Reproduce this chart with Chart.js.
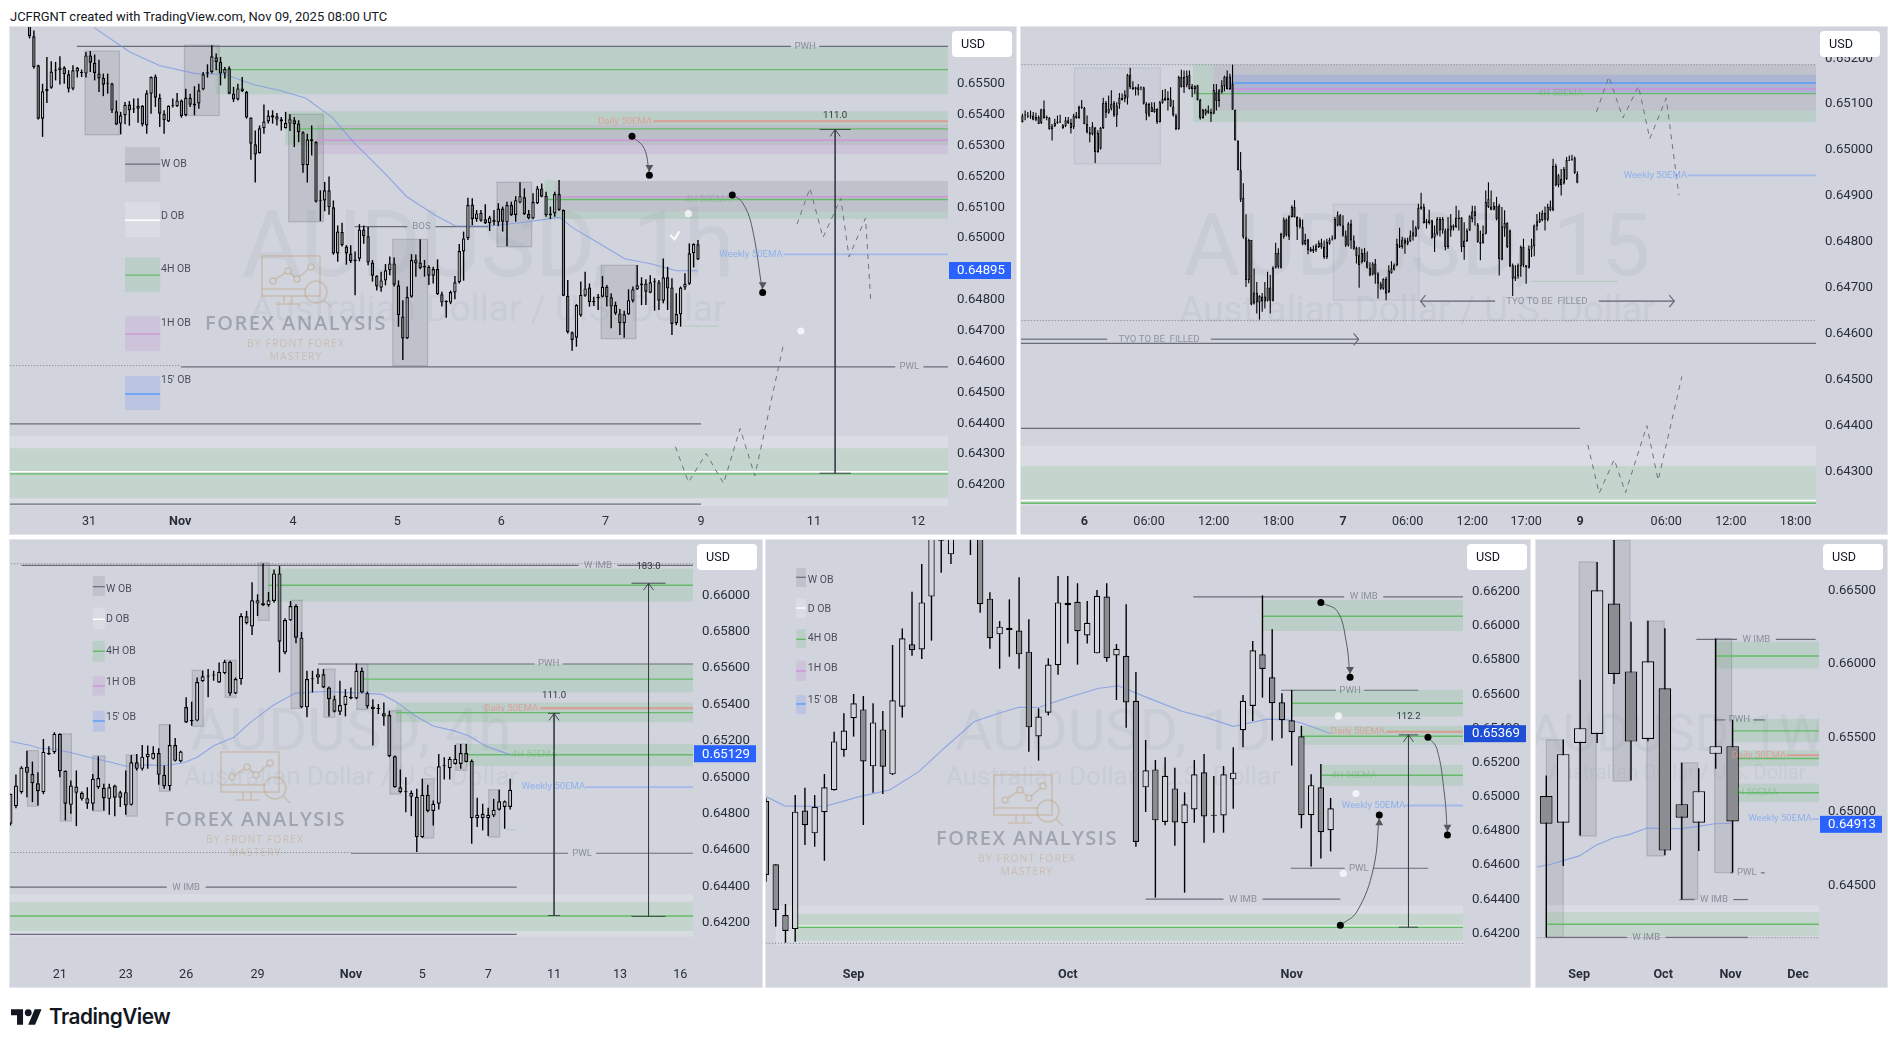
<!DOCTYPE html>
<html><head><meta charset="utf-8"><title>AUDUSD multi-timeframe</title>
<script src="https://cdn.jsdelivr.net/npm/chart.js@4"></script>
<style>
html,body{margin:0;padding:0;background:#fff;width:1897px;height:1047px;overflow:hidden}
#hdr{position:absolute;left:10px;top:9px;font:12.97px Roboto,sans-serif;color:#131722;white-space:nowrap}
#tv{position:absolute;left:11px;top:1004px;display:flex;align-items:center;gap:7px;font:600 20.8px Inter,sans-serif;color:#131722;letter-spacing:-.5px}
canvas{position:absolute;display:block}
</style></head><body>
<div id="hdr">JCFRGNT created with TradingView.com, Nov 09, 2025 08:00 UTC</div>
<div id="tv"><svg width="31" height="24" viewBox="0 2 36 22"><path fill="#131722" d="M14 22H7V11H0V4h14v18zM28 22h-8l7.5-18h8L28 22z"/><circle fill="#131722" cx="20" cy="8" r="4"/></svg><span>TradingView</span></div>
<script>
// All prices are in units of 0.00001. Rows of candles are [open, high, low, close].
const L=-99,R=999;
const p1Start=-14;
const p1Candles=[[65700,65711,65647,65654],[65654,65673,65549,65554],[65560,65562,65384,65387],[65387,65500,65328,65476],[65476,65587,65438,65484],[65487,65573,65484,65540],[65542,65571,65511,65546],[65544,65589,65498,65553],[65553,65557,65500,65531],[65531,65544,65472,65484],[65484,65560,65479,65544],[65540,65554,65520,65552],[65537,65546,65522,65535],[65533,65603,65520,65592],[65592,65606,65538,65568],[65568,65595,65511,65535],[65533,65578,65473,65517],[65519,65533,65460,65497],[65501,65533,65468,65500],[65501,65503,65405,65414],[65411,65446,65366,65368],[65371,65409,65336,65398],[65398,65441,65369,65432],[65433,65444,65364,65414],[65418,65452,65405,65417],[65429,65453,65374,65419],[65429,65431,65362,65368],[65365,65479,65338,65469],[65468,65524,65403,65522],[65524,65530,65425,65455],[65455,65468,65360,65403],[65403,65414,65338,65382],[65378,65430,65376,65429],[65427,65452,65423,65429],[65427,65470,65425,65446],[65446,65449,65390,65396],[65398,65484,65395,65455],[65455,65468,65425,65432],[65436,65492,65398,65430],[65436,65500,65419,65479],[65482,65538,65479,65531],[65533,65563,65520,65537],[65538,65625,65533,65589],[65586,65598,65544,65571],[65571,65587,65495,65533],[65533,65554,65517,65548],[65550,65557,65466,65468],[65468,65490,65441,65449],[65449,65500,65446,65485],[65485,65522,65473,65476],[65473,65477,65387,65391],[65391,65391,65254,65306],[65304,65349,65180,65271],[65275,65365,65274,65356],[65356,65433,65338,65378],[65378,65414,65371,65397],[65391,65414,65371,65398],[65395,65405,65365,65384],[65385,65392,65349,65378],[65356,65409,65355,65373],[65371,65401,65347,65385],[65382,65392,65295,65369],[65371,65382,65311,65343],[65343,65346,65212,65236],[65236,65338,65180,65320],[65320,65365,65268,65314],[65311,65314,65115,65118],[65122,65155,65055,65121],[65122,65182,65087,65155],[65155,65200,65076,65100],[65100,65122,64946,64950],[64950,65041,64923,65021],[65020,65050,64973,64977],[64973,64977,64914,64950],[64950,64977,64919,64925],[64925,64957,64815,64931],[64933,65045,64925,65028],[65028,65041,64982,65006],[65006,65036,64912,64921],[64921,64929,64859,64878],[64878,64880,64830,64843],[64839,64891,64826,64863],[64863,64916,64847,64896],[64896,64940,64880,64918],[64918,64937,64843,64849],[64847,64863,64713,64750],[64746,64799,64605,64675],[64675,64843,64673,64809],[64810,64948,64807,64929],[64931,64947,64875,64918],[64921,64996,64899,64903],[64910,64929,64875,64905],[64907,64912,64848,64878],[64878,64907,64853,64900],[64900,64931,64816,64818],[64818,64826,64778,64791],[64795,64799,64742,64793],[64791,64830,64786,64825],[64824,64877,64802,64857],[64857,64981,64853,64958],[64957,65021,64862,64999],[65000,65131,64994,65107],[65109,65129,65042,65062],[65062,65091,65053,65080],[65082,65091,65053,65056],[65061,65110,65046,65048],[65048,65072,65023,65067],[65051,65091,65042,65059],[65051,65113,65039,65096],[65096,65102,65021,65053],[65051,65118,64974,65107],[65107,65118,65072,65075],[65075,65136,65053,65123],[65115,65181,65113,65136],[65132,65161,65075,65078],[65078,65091,65061,65064],[65064,65145,65061,65117],[65113,65169,65110,65161],[65161,65177,65132,65134],[65137,65150,65069,65074],[65074,65102,65062,65080],[65080,65150,65069,65143],[65143,65188,65089,65091],[65091,65093,64812,64813],[64813,64864,64691,64695],[64695,64697,64635,64670],[64677,64786,64648,64783],[64749,64859,64745,64816],[64813,64891,64810,64837],[64840,64853,64778,64792],[64796,64810,64780,64792],[64805,64819,64767,64810],[64810,64877,64808,64842],[64842,64848,64778,64808],[64808,64821,64708,64778],[64783,64794,64751,64756],[64756,64770,64686,64724],[64724,64765,64677,64753],[64753,64834,64751,64799],[64797,64843,64791,64834],[64834,64913,64832,64847],[64847,64873,64783,64853],[64853,64867,64783,64826],[64823,64880,64821,64857],[64857,64870,64765,64858],[64857,64864,64767,64797],[64797,64934,64789,64873],[64873,64907,64767,64837],[64840,64870,64686,64722],[64724,64821,64718,64754],[64753,64843,64713,64840],[64840,64886,64832,64852],[64852,64983,64848,64951],[64951,64983,64905,64981],[64980,64994,64929,64931]];
const p1TickIdx=[0,21,47,71,95,119,141,167,191];
const p1TickLabels=['31','Nov','4','5','6','7','9','11','12'];
const p1PriceTicks=[65500,65400,65300,65200,65100,65000,64900,64800,64700,64600,64500,64400,64300,64200];
const p1Ema=[[1.2,65682],[9.4,65603],[16.2,65559],[24.5,65533],[31.2,65531],[38,65497],[44,65478],[50,65453],[56,65391],[61.2,65307],[68,65212],[73.2,65134],[79.9,65073],[84.4,65039],[92,65039],[99.4,65050],[108.4,65067],[111.4,65034],[117.4,64984],[123.4,64933],[129.4,64917],[135.4,64894],[140.2,64894]];
const p1Zones=[[-.9,7,65606,65335,'w'],[22,30,65625,65397,'w'],[46,54,65401,65053,'w'],[70,78,64996,64587,'w'],[94,102,65181,64972,'w'],[118,126,64912,64674,'w'],[29.2,R,65620,65466,'g'],[45.2,R,65411,65302,'g'],[52.5,R,65367,65272,'p'],[105,107.2,65187,65062,'g'],[107.2,R,65086,65062,'g'],[107.2,R,65185,65086,'w0'],[L,R,64360,64131,'d'],[L,R,64319,64157,'g']];
const p1Lines=[[65621,-2.8,R,'grey','PWH',165],[65546,29.3,R,'green'],[65354,47.8,R,'green'],[65317,52.5,R,'purple'],[65379,130,R,'daily'],[65134,107,R,'purple'],[65125,105.6,R,'green'],[64947,160,R,'weekly'],[65037,61.2,92,'grey','BOS',76.6],[64583,21.2,R,'grey','PWL',189],[64587,L,21.2,'dot'],[64398,L,141,'grey'],[64138,L,141,'grey'],[64236,L,R,'green'],[64243,L,R,'white'],[64715,137,145,'gf']];
const p1Labels=[[123.5,65379,'Daily 50EMA','daily'],[142.6,65125,'4H 50EMA','ema4'],[152.5,64947,'Weekly 50EMA','weekly'],[171.9,65397,'111.0','meas']];
const p1Measures=[[171.9,65352,64238,3.6]];
const p1Curves=[{pts:[[125.1,65330],[127.9,65291],[129.1,65204]],dir:'down'},{pts:[[148.2,65140],[150.4,65118],[152.6,65045],[155.2,64824]],dir:'down'}];
const p1ZigTop=[[163.1,65045],[166.1,65162],[169.1,65002],[173.2,65129],[175.1,64939],[178.9,65065],[180.1,64799]];
const p1ZigLow=[[135.1,64324],[138.1,64209],[142.2,64302],[146.2,64205],[150,64383],[153.4,64230],[160.1,64662]];
const p1Icons=[[138.1,65079],[164,64699]];
const p1Check=[[133.9,65010],[134.9,64996],[136,65022]];
const p1Legend=[['W OB',65295,65182,65240,65240],['D OB',65117,65003,65058,65071],['4H OB',64938,64825,64880,64900],['1H OB',64747,64634,64689,64725],["15' OB",64553,64443,64495,64540]];
const p1LegendX=[8.3,16.4,16.6];

const p2Start=-23;
const p2Candles=[[65061,65079,65060,65075],[65075,65086,65065,65076],[65075,65083,65070,65073],[65073,65086,65068,65075],[65075,65083,65065,65066],[65066,65081,65063,65072],[65072,65075,65057,65057],[65059,65090,65057,65089],[65089,65108,65068,65070],[65070,65075,65065,65071],[65070,65072,65044,65046],[65046,65057,65021,65052],[65052,65068,65050,65059],[65059,65075,65057,65062],[65062,65077,65059,65060],[65048,65057,65046,65054],[65052,65072,65050,65065],[65065,65072,65057,65059],[65059,65068,65036,65048],[65050,65079,65046,65075],[65070,65083,65068,65075],[65070,65097,65068,65094],[65092,65109,65090,65095],[65092,65094,65056,65057],[65057,65075,65036,65039],[65039,65050,65017,65034],[65034,65061,65032,65052],[65049,65050,64972,64996],[64996,65043,64994,65037],[65003,65050,65001,65048],[65048,65114,65046,65103],[65103,65107,65070,65081],[65081,65119,65079,65090],[65090,65130,65086,65101],[65103,65107,65072,65075],[65075,65104,65050,65097],[65099,65124,65090,65114],[65109,65123,65108,65114],[65112,65130,65104,65121],[65114,65166,65099,65164],[65164,65179,65133,65137],[65137,65150,65131,65133],[65133,65138,65119,65137],[65137,65144,65119,65131],[65136,65138,65130,65137],[65137,65138,65099,65101],[65101,65104,65065,65079],[65075,65103,65072,65101],[65094,65104,65083,65083],[65083,65104,65081,65090],[65090,65091,65057,65061],[65061,65107,65060,65104],[65102,65131,65101,65112],[65108,65133,65107,65114],[65109,65128,65086,65114],[65112,65137,65094,65095],[65095,65109,65073,65075],[65075,65079,65043,65046],[65046,65162,65044,65159],[65159,65175,65136,65137],[65137,65173,65124,65159],[65141,65173,65137,65162],[65164,65173,65132,65133],[65133,65144,65115,65139],[65133,65141,65123,65139],[65141,65142,65108,65109],[65109,65112,65066,65070],[65070,65090,65068,65088],[65079,65090,65075,65088],[65081,65097,65079,65086],[65083,65090,65061,65079],[65079,65144,65078,65131],[65126,65144,65086,65107],[65107,65133,65094,65130],[65126,65152,65123,65141],[65139,65162,65128,65160],[65160,65173,65132,65133],[65133,65166,65131,65160],[65144,65186,65088,65088],[65088,65088,65021,65021],[65021,65021,64956,64956],[64957,64996,64887,64892],[64896,64928,64807,64810],[64810,64860,64702,64717],[64717,64807,64710,64804],[64804,64804,64662,64664],[64666,64742,64664,64690],[64690,64713,64644,64668],[64668,64684,64631,64682],[64681,64689,64648,64670],[64670,64713,64655,64681],[64672,64735,64670,64701],[64701,64728,64644,64672],[64672,64747,64670,64744],[64744,64798,64742,64776],[64746,64786,64742,64776],[64744,64820,64742,64818],[64811,64853,64807,64849],[64849,64851,64812,64815],[64811,64858,64804,64856],[64854,64880,64853,64876],[64876,64891,64853,64854],[64854,64856,64804,64833],[64849,64853,64829,64833],[64833,64849,64793,64795],[64795,64818,64793,64804],[64805,64807,64773,64782],[64785,64789,64778,64780],[64780,64792,64776,64785],[64782,64796,64778,64792],[64789,64803,64787,64798],[64798,64807,64785,64789],[64789,64803,64763,64767],[64766,64807,64763,64800],[64796,64809,64794,64805],[64805,64814,64803,64807],[64807,64854,64805,64850],[64836,64866,64834,64858],[64858,64861,64834,64836],[64836,64858,64811,64814],[64814,64825,64789,64792],[64792,64843,64790,64840],[64840,64848,64785,64803],[64803,64814,64783,64785],[64787,64790,64753,64769],[64771,64789,64700,64749],[64756,64785,64753,64776],[64776,64787,64756,64758],[64758,64779,64742,64744],[64744,64756,64725,64727],[64729,64756,64727,64753],[64753,64763,64709,64729],[64731,64734,64677,64709],[64709,64713,64696,64698],[64698,64721,64696,64720],[64720,64724,64673,64687],[64691,64749,64689,64738],[64732,64758,64731,64742],[64740,64753,64738,64749],[64749,64807,64747,64796],[64789,64831,64787,64793],[64789,64811,64785,64805],[64805,64809,64774,64796],[64796,64809,64793,64802],[64802,64825,64800,64814],[64812,64847,64803,64821],[64812,64834,64811,64831],[64829,64883,64827,64874],[64872,64907,64870,64877],[64877,64883,64840,64841],[64841,64850,64829,64845],[64841,64870,64838,64847],[64847,64848,64807,64809],[64809,64836,64778,64819],[64818,64854,64814,64850],[64850,64854,64812,64825],[64825,64854,64818,64850],[64825,64829,64782,64789],[64789,64854,64785,64829],[64825,64861,64811,64836],[64831,64838,64825,64836],[64832,64879,64831,64853],[64850,64869,64825,64853],[64853,64854,64778,64789],[64789,64843,64761,64803],[64802,64829,64800,64825],[64825,64858,64824,64856],[64850,64879,64843,64867],[64867,64879,64836,64856],[64838,64841,64798,64800],[64800,64825,64760,64796],[64798,64836,64796,64818],[64818,64912,64816,64887],[64876,64930,64874,64894],[64877,64912,64869,64870],[64870,64887,64869,64879],[64879,64898,64847,64850],[64879,64883,64727,64763],[64761,64876,64760,64834],[64829,64869,64811,64841],[64841,64843,64787,64789],[64825,64827,64745,64747],[64749,64753,64682,64720],[64720,64749,64715,64725],[64725,64753,64720,64749],[64747,64792,64724,64789],[64789,64807,64745,64749],[64749,64749,64709,64745],[64744,64792,64742,64785],[64785,64807,64767,64792],[64791,64838,64769,64836],[64834,64861,64825,64845],[64843,64865,64841,64850],[64847,64869,64845,64863],[64863,64877,64825,64848],[64848,64883,64845,64877],[64869,64890,64867,64877],[64869,64981,64867,64966],[64966,64970,64921,64923],[64924,64948,64919,64945],[64937,64959,64901,64924],[64927,64963,64925,64959],[64937,64985,64935,64979],[64977,64988,64976,64979],[64979,64990,64977,64981],[64983,64986,64948,64950],[64948,64954,64928,64929]];
const p2TickIdx=[0,24,48,72,96,120,144,164,184,216,240,264];
const p2TickLabels=['6','06:00','12:00','18:00','7','06:00','12:00','17:00','9','06:00','12:00','18:00'];
const p2PriceTicks=[65200,65100,65000,64900,64800,64700,64600,64500,64400,64300];
const p2Zones=[[-3.7,28.2,65179,64970,'wl'],[92.4,124.2,64882,64673,'wl'],[40.4,48,65186,65061,'g'],[48,R,65086,65061,'g'],[48,R,65186,65086,'w0'],[54.3,R,65164,65124,'b'],[L,R,64356,64225,'d'],[L,R,64312,64231,'g']];
const p2Lines=[[65186,L,R,'dot'],[64629,L,R,'dot'],[65146,54.3,R,'blue'],[65133,54.3,R,'purple'],[65123,40,R,'green'],[64945,224,R,'weekly'],[64671,124.8,219,'tyo','TYO TO BE  FILLED',171.7],[64588,L,101.8,'tyo','TYO TO BE  FILLED',27.7],[64579,L,R,'grey'],[64394,L,184,'grey'],[64231,L,R,'green'],[64237,L,R,'white'],[64714,166,198,'gf']];
const p2Labels=[[176.7,65123,'4H 50EMA','ema4'],[212,64945,'Weekly 50EMA','weekly']];
const p2Chevrons=[[124.8,64671,-1],[219,64671,1],[101.8,64588,1]];
const p2ZigTop=[[190.1,65083],[194.7,65160],[199.9,65070],[205.7,65139],[209.9,65025],[216,65113],[220.7,64902]];
const p2ZigLow=[[186.9,64358],[191.1,64253],[196.7,64326],[200.9,64254],[208.8,64400],[213,64281],[221.8,64507]];

const p3Start=-9;
const p3Candles=[[64909,64909,64735,64744],[64841,65015,64830,64954],[64918,65060,64909,65053],[65058,65146,64890,65024],[65018,65086,64863,64967],[64967,65027,64845,64923],[64918,65210,64907,65139],[65133,65170,65122,65126],[65137,65247,65128,65238],[65238,65241,65000,65033],[65035,65037,64763,64854],[64848,64982,64799,64954],[64949,65037,64731,64914],[64914,64922,64872,64881],[64885,64945,64826,64854],[64854,65018,64817,64991],[64945,65115,64936,64996],[64942,64964,64817,64885],[64881,64964,64794,64945],[64954,64958,64786,64887],[64918,64925,64836,64887],[64918,65037,64794,64845],[64848,65122,64845,65082],[65082,65128,65037,65046],[65046,65177,65037,65113],[65110,65174,65046,65128],[65101,65170,65097,65133],[65133,65159,64958,65013],[65013,65064,64936,64951],[64951,65289,64927,65177],[65177,65216,65086,65090],[65086,65146,65082,65141],[65386,65439,65298,65301],[65307,65415,65283,65314],[65311,65548,65307,65523],[65528,65585,65524,65555],[65554,65594,65439,65555],[65559,65585,65530,65561],[65521,65630,65517,65579],[65572,65645,65566,65634],[65634,65640,65448,65460],[65460,65548,65457,65539],[65539,65901,65508,65886],[65884,65914,65840,65846],[65828,66072,65782,65972],[65954,66005,65886,65972],[65956,66175,65941,65945],[65945,66018,65937,65972],[65968,66142,65959,66120],[66120,66160,65576,65745],[65685,65873,65676,65864],[65862,65968,65859,65941],[65941,65950,65736,65767],[65767,65798,65380,65384],[65384,65585,65329,65539],[65539,65585,65466,65538],[65548,65597,65512,65566],[65566,65594,65490,65493],[65493,65499,65334,65429],[65429,65448,65356,65360],[65360,65530,65342,65397],[65397,65484,65334,65448],[65442,65493,65429,65433],[65433,65625,65429,65585],[65585,65603,65462,65466],[65462,65470,65378,65389],[65389,65429,65174,65375],[65375,65402,65347,65378],[65351,65411,65283,65334],[65342,65365,65110,65115],[65115,65119,64942,64945],[64945,65042,64914,64918],[64922,65000,64808,64918],[64914,64927,64786,64892],[64892,64936,64589,64671],[64671,64991,64666,64903],[64903,64958,64808,64814],[64814,64872,64735,64854],[64854,65128,64823,65060],[65060,65110,64987,65064],[65049,65113,64987,65101],[65073,65177,65070,65101],[65073,65183,65046,65133],[65133,65183,65082,65084],[65090,65097,64635,64775],[64775,64887,64726,64794],[64799,64854,64708,64775],[64775,64832,64677,64794],[64790,64881,64781,64821],[64821,64931,64817,64868],[64836,64872,64717,64868],[64836,64991,64823,64931]];
const p3TickIdx=[0,12,23,36,53,66,78,90,102,113];
const p3TickLabels=['21','23','26','29','Nov','5','7','11','13','16'];
const p3PriceTicks=[66000,65800,65600,65400,65200,65000,64800,64600,64400,64200];
const p3Ema=[[-8.9,65196],[-5.3,65174],[-3.8,65159],[-1,65155],[2.3,65133],[5.9,65106],[9.3,65082],[12,65060],[15.3,65068],[19.3,65064],[22.6,65079],[25,65110],[28.1,65174],[31.7,65219],[34.7,65301],[39,65398],[42.9,65462],[45.6,65466],[48.1,65471],[51.7,65466],[55.3,65462],[58.7,65455],[61.4,65411],[64.7,65338],[68.1,65280],[71.7,65256],[74.4,65228],[77.8,65168],[82,65124]];
const p3Zones=[[-5.9,-3.9,65146,64841,'w'],[.1,2.1,65238,64759,'w'],[6,8.2,65117,64814,'w'],[12.1,14.1,65122,64786,'w'],[18.1,20.1,65289,64923,'w'],[24.1,26.1,65588,65280,'w'],[30.1,32.1,65643,65439,'w'],[36.1,38.1,66178,65862,'w'],[42.1,44.1,65972,65378,'w'],[48.1,50.1,65594,65329,'w'],[54.1,56.1,65621,65373,'w'],[60.1,62.1,65365,64907,'w'],[66.1,68.1,64991,64666,'w'],[72.1,74.1,65183,65038,'w'],[78.1,80.1,64931,64671,'w'],[37.9,R,66146,65965,'g'],[55.8,R,65622,65466,'g'],[61.2,R,65410,65302,'g'],[74.1,R,65183,65061,'g'],[L,R,64357,64124,'d'],[L,R,64315,64155,'g']];
const p3Lines=[[66173,L,R,'dot'],[66164,-7,R,'grey','W IMB',98],[66055,37.9,R,'green'],[65622,47,R,'grey','PWH',89],[65539,54.9,R,'green'],[65355,61.2,R,'green'],[65379,87.4,R,'daily'],[65123,74.1,R,'green'],[64946,95.7,R,'weekly'],[64582,53,R,'grey','PWL',95.1],[64586,L,53,'dot'],[64396,L,83.2,'grey','W IMB',23],[64237,L,R,'green'],[64136,L,83.2,'grey'],[64711,81.2,83.2,'gf']];
const p3Labels=[[82.2,65379,'Daily 50EMA','daily'],[86.4,65123,'4H 50EMA','ema4'],[89.9,64946,'Weekly 50EMA','weekly'],[90,65448,'111.0','meas'],[107.2,66160,'183.0','meas']];
const p3Measures=[[90,65351,64240,1.1],[107.2,66066,64235,3.1]];
const p3Legend=[['W OB',66105,65996,66047,66032],['D OB',65932,65815,65868,65868],['4H OB',65749,65634,65692,65692],['1H OB',65557,65448,65501,65521],["15' OB",65365,65250,65309,65331]];
const p3LegendX=[6,8.2,8.4];

const p4Start=-9;
const p4Candles=[[64975,64991,64503,64542],[64605,64605,64240,64338],[64308,64373,64146,64215],[64226,65010,64152,64913],[64919,65053,64718,64833],[64786,65010,64708,64942],[64909,65133,64626,65055],[65038,65381,65036,65324],[65274,65488,65234,65387],[65459,65601,65352,65547],[65511,65589,64835,65207],[65178,65547,65024,65435],[65394,65502,65016,65176],[65131,65888,65127,65564],[65527,65985,65463,65927],[65892,66200,65825,65857],[65862,66362,65806,66137],[66171,66619,65913,66580],[66512,66658,66311,66498],[66418,66600,66362,66560],[66620,66700,66560,66660],[66640,66700,66414,66560],[66541,66580,66077,66126],[66159,66196,65866,65927],[65950,66028,65749,65995],[65976,66155,65819,65989],[65972,66284,65749,65833],[65849,66038,65264,65406],[65353,65517,65211,65469],[65492,65810,65476,65773],[65769,66291,65714,66137],[66120,66291,65896,66135],[66141,66249,65773,65968],[65944,66145,65896,66018],[65839,66210,65839,66176],[66171,66249,65790,65810],[65827,65894,65566,65866],[65825,66126,65404,65552],[65562,65730,64708,64735],[65055,65332,64911,65155],[65160,65215,64410,64862],[64852,65231,64833,65123],[65049,65170,64714,64850],[64845,65026,64439,64956],[64926,65215,64848,65131],[65143,65250,64731,64885],[64889,65121,64790,64891],[64891,65180,64790,65131],[65102,65289,64930,65141],[65389,65595,65289,65562],[65531,65911,65443,65857],[65833,66178,65580,65747],[65699,65980,65329,65547],[65553,65606,65342,65448],[65448,65625,65183,65378],[65354,65415,64816,64892],[64892,65132,64592,65068],[65056,65192,64639,64793],[64804,64993,64680,64933]];
const p4TickIdx=[0,22,45];
const p4TickLabels=['Sep','Oct','Nov'];
const p4PriceTicks=[66200,66000,65800,65600,65400,65200,65000,64800,64600,64400,64200];
const p4Ema=[[-9,65001],[-7.1,64947],[-3,64943],[.6,65001],[3.7,65040],[6.7,65147],[9.3,65284],[12.4,65440],[14.9,65489],[17,65524],[19,65522],[22.1,65582],[25.2,65635],[27.2,65649],[30.3,65577],[33.8,65499],[36.4,65460],[39,65412],[42.5,65454],[44.6,65450],[46.1,65430],[49,65370]];
const p4Zones=[[42,R,66152,65970,'g'],[45,R,65625,65469,'g'],[46,R,65415,65303,'g'],[48.1,R,65187,65064,'g'],[-8,R,64362,64130,'d'],[-6,R,64315,64157,'g']];
const p4Lines=[[66169,34.9,R,'grey','W IMB',52.4],[66056,42,R,'green'],[65623,43.9,58,'grey','PWH',51],[65547,45,R,'green'],[65354,46,R,'green'],[65381,54.7,R,'daily'],[65126,48.1,R,'green'],[64949,56.6,R,'weekly'],[64582,44.9,59,'grey','PWL',51.9],[64401,30,50,'grey','W IMB',40],[64237,-6,R,'green'],[64243,-6,R,'white'],[64143,L,R,'dot']];
const p4Labels=[[51.8,65381,'Daily 50EMA','daily'],[51.4,65126,'4H 50EMA','ema4'],[53.4,64949,'Weekly 50EMA','weekly'],[57,65467,'112.2','meas']];
const p4Measures=[[57,65362,64237,1]];
const p4Curves=[{pts:[[48,66136],[49.7,66084],[50.6,65908],[51,65699]],dir:'down'},{pts:[[59,65348],[59.9,65284],[60.7,65011],[61,64777]],dir:'down'},{pts:[[50,64248],[51.7,64328],[53.4,64582],[54,64894]],dir:'up'}];
const p4Icons=[[49.8,65473],[51.6,65019],[50.3,64551]];
const p4Legend=[['W OB',66338,66227,66284,66266],['D OB',66159,66046,66104,66096],['4H OB',65981,65870,65921,65927],['1H OB',65796,65677,65736,65751],["15' OB",65595,65484,65543,65564]];
const p4LegendX=[-5.9,-4.9,-4.7];

const p5Start=0;
const p5Candles=[[65105,65244,64146,64917],[64924,65488,64631,65389],[65465,65894,64838,65565],[65526,66692,65465,66500],[66410,66868,65865,65932],[65950,66286,65211,65474],[65492,66293,65477,66018],[65835,66243,64703,64735],[65050,65330,64405,64958],[64924,65294,64733,65138],[65391,66173,65290,65443],[65443,65621,64586,64933]];
const p5TickIdx=[1.94,6.9,10.88,14.86];
const p5TickLabels=['Sep','Oct','Nov','Dec'];
const p5PriceTicks=[66500,66000,65500,65000,64500];
const p5Ema=[[-.55,64624],[.27,64642],[1.94,64699],[2.94,64771],[3.94,64820],[4.94,64845],[5.94,64888],[6.94,64884],[7.94,64884],[8.94,64899],[9.94,64917],[10.94,64920]];
const p5Zones=[[0,1,65486,64146,'w'],[1.94,2.94,66692,64834,'w'],[3.94,4.94,66840,65206,'w'],[5.94,6.96,66291,64699,'w'],[7.94,8.94,65330,64406,'w'],[9.94,10.94,66173,64586,'w'],[9.98,R,66151,65970,'g'],[10.96,R,65628,65470,'g'],[10.96,R,65414,65308,'g'],[10.96,R,65190,65064,'g'],[0,R,64365,64151,'d'],[0,R,64318,64155,'g']];
const p5Lines=[[66167,8.86,15.9,'grey','W IMB',12.4],[66054,9.98,R,'green'],[65621,9.9,12.9,'grey','PWH',11.4],[65547,10.96,R,'green'],[65359,10.96,R,'green'],[65382,14.2,R,'daily'],[65127,10.96,R,'green'],[64949,15.7,R,'weekly'],[64584,10.86,12.9,'grey','PWL',11.84],[64403,7.86,11.9,'grey','W IMB',9.9],[64236,0,R,'green'],[64144,L,R,'dot'],[64146,0,11.9,'grey','W IMB',5.9]];
const p5Labels=[[12.55,65382,'Daily 50EMA','daily'],[12.3,65127,'4H 50EMA','ema4'],[13.8,64949,'Weekly 50EMA','weekly']];

const BG='#d1d4dd', FONT='Roboto, sans-serif';
const ZONE={w:['rgba(120,123,134,.2)','rgba(120,123,134,.35)'],w0:['rgba(120,123,134,.2)',null],wl:['rgba(120,123,134,.06)','rgba(120,123,134,.16)'],d:['rgba(255,255,255,.2)',null],g:['rgba(76,175,80,.15)',null],p:['rgba(186,104,200,.15)',null],b:['rgba(41,98,255,.13)',null]};
const LINE={grey:['#6a6d78',1.2],green:['#66bb6a',1.4],purple:['#ce93d8',1.4],blue:['#5b9cf6',1.4],daily:['rgba(226,140,130,.75)',2],weekly:['#a3b8ec',1.8],white:['#ffffff',1.4],dot:['#787b86',1,[1,2]],tyo:['#7f828d',1.6],gf:['rgba(76,175,80,.25)',1]};
const TXT={grey:'rgba(80,83,94,.55)',tyo:'rgba(80,83,94,.5)',daily:'rgba(227,150,140,.8)',weekly:'#8fb0ec',ema4:'rgba(76,175,80,.35)',meas:'#33363f',leg:'#4b4e59'};
const P=v=>v/1e5;
const OVER={left:8,top:8,right:0,bottom:0};

function logo(ctx,x,y){
  ctx.save();ctx.translate(x,y);ctx.strokeStyle='rgba(190,160,120,.42)';ctx.lineWidth=1.6;
  ctx.strokeRect(0,0,58,40);ctx.beginPath();ctx.moveTo(0,33);ctx.lineTo(44,33);ctx.stroke();
  ctx.beginPath();ctx.moveTo(22,40);ctx.lineTo(22,47);ctx.moveTo(30,40);ctx.lineTo(30,47);ctx.moveTo(14,48);ctx.lineTo(38,48);ctx.stroke();
  const d=[[11,25],[26,15],[35,23],[49,11]];ctx.beginPath();d.forEach((q,i)=>i?ctx.lineTo(q[0],q[1]):ctx.moveTo(q[0],q[1]));ctx.stroke();
  d.forEach(q=>{ctx.beginPath();ctx.arc(q[0],q[1],3,0,7);ctx.fillStyle=BG;ctx.fill();ctx.stroke();});
  ctx.beginPath();ctx.arc(54,36,11,0,7);ctx.stroke();ctx.beginPath();ctx.moveTo(62,44);ctx.lineTo(69,51);ctx.stroke();
  ctx.restore();
}

function panel(c){
  const cv=document.createElement('canvas');
  cv.width=c.box[2];cv.height=c.box[3];
  cv.style.cssText=`left:${c.box[0]}px;top:${c.box[1]}px;width:${c.box[2]}px;height:${c.box[3]}px;outline:1px solid #e4e6ec`;
  document.body.appendChild(cv);
  const plotW=c.box[2]-c.axisW, plotH=c.box[3]-28;
  const ix=(c.x[1]-c.x[0])/plotW, pp=(c.y[1]-c.y[0])/plotH;
  const ds=[];
  const line=(pts,color,width,dash,order,extra)=>ds.push(Object.assign({type:'line',clip:OVER,data:pts.map(q=>({x:q[0],y:P(q[1])})),borderColor:color,borderWidth:width,borderDash:dash||[],pointRadius:0,tension:0,fill:false,order:order},extra||{}));
  const labels=(c.labels||[]).slice(), zones=(c.zones||[]).slice(), hl=(c.lines||[]).slice();
  if(c.legend){const k=['w0','d','g','p','b'],l=['grey','white','green','purple','blue'];
    c.legend.forEach((r,n)=>{zones.push([c.legendX[0],c.legendX[1],r[1],r[2],k[n]]);hl.push([r[3],c.legendX[0],c.legendX[1],l[n]]);labels.push([c.legendX[2],r[4],r[0],'leg','left']);});}
  hl.forEach(r=>{const[p,a,b,kind,txt,at]=r,s=LINE[kind];
    if(txt){labels.push([at,p,txt,kind==='grey'?'grey':'tyo']);const g=(txt.length*5.4+12)/2*ix;
      line([[a,p],[at-g,p]],s[0],s[1],s[2],6);line([[at+g,p],[b,p]],s[0],s[1],s[2],6);}
    else line([[a,p],[b,p]],s[0],s[1],s[2],6);});
  if(c.ema)line(c.ema,'rgba(120,150,230,.75)',1.1,null,5);
  (c.zig||[]).forEach(z=>line(z,'#6f7280',1,[5,5],1));
  (c.measures||[]).forEach(m=>{const[i,t,b,cap]=m;
    line([[i,t],[i,b]],'#3a3d47',.9,null,1);line([[i-cap,t],[i+cap,t]],'#3a3d47',.9,null,1);line([[i-cap,b],[i+cap,b]],'#3a3d47',.9,null,1);
    line([[i-5*ix,t-7*pp],[i,t],[i+5*ix,t-7*pp]],'#3a3d47',.9,null,1);});
  (c.chevrons||[]).forEach(m=>{const[i,p,d]=m;line([[i-d*5*ix,p+6*pp],[i,p],[i-d*5*ix,p-6*pp]],'#666974',1.2,null,1);});
  (c.curves||[]).forEach(u=>{const n=u.pts.length;
    line(u.pts,'#5a5d68',1,null,0,{tension:.4,pointRadius:u.pts.map((q,j)=>j===0||j===n-1?3.5:0),pointBackgroundColor:'#000',pointBorderWidth:0});
    const e=u.pts[n-1],up=u.dir==='up';
    line([[e[0],e[1]+(up?-8:8)*pp]],'#555',1,null,0,{showLine:false,pointStyle:'triangle',pointRotation:up?0:180,pointRadius:4.5,pointBackgroundColor:'#555',pointBorderWidth:0});});
  if(c.icons)line(c.icons,'#fff',1,null,0,{showLine:false,pointRadius:3.6,pointBackgroundColor:'rgba(255,255,255,.72)',pointBorderWidth:0});
  if(c.check)line(c.check,'rgba(255,255,255,.9)',2,null,0);
  const xs=c.candles.map((r,n)=>c.start+n+(c.shift||0));
  const BODY={up:BG,dn:'#8b8d93'};
  ds.push({type:'bar',clip:OVER,order:3,grouped:false,barThickness:c.wick||1.4,backgroundColor:'#000',borderWidth:0,inflateAmount:0,data:c.candles.map((r,n)=>({x:xs[n],y:[P(r[2]),P(r[1])]}))});
  ds.push({type:'bar',clip:OVER,order:2,grouped:false,barThickness:c.body,minBarLength:1,backgroundColor:c.candles.map(r=>r[3]>=r[0]?BODY.up:BODY.dn),borderColor:'#000',borderWidth:c.bw||1.2,borderSkipped:false,inflateAmount:0,data:c.candles.map((r,n)=>({x:xs[n],y:[P(Math.min(r[0],r[3])),P(Math.max(r[0],r[3]))]}))});
  const bold=new Set(c.bold);
  const plugin={id:'p'+c.box[0],
    beforeDraw(ch){const x=ch.ctx,sx=ch.scales.x,sy=ch.scales.y;
      x.save();x.fillStyle=BG;x.fillRect(0,0,ch.width,ch.height);
      x.beginPath();x.rect(0,0,plotW,plotH);x.clip();
      x.textAlign='center';x.textBaseline='middle';
      x.fillStyle='rgba(120,123,134,.095)';x.font=`400 ${c.wm.bs}px ${FONT}`;x.fillText(c.wm.big,c.wm.cx,c.wm.by);
      x.font=`400 ${c.wm.ss}px ${FONT}`;x.fillText('Australian Dollar / U.S. Dollar',c.wm.cx,c.wm.sy);
      if(c.logo){const g=c.logo;logo(x,g.x,g.y);
        x.fillStyle='rgba(120,123,134,.55)';x.font=`600 20px "Open Sans",${FONT}`;x.letterSpacing='1.5px';x.fillText('FOREX ANALYSIS',g.cx,g.t);x.letterSpacing='1px';
        x.fillStyle='rgba(190,160,120,.42)';x.font=`400 10.5px "Open Sans",${FONT}`;x.fillText('BY FRONT FOREX',g.cx,g.t+20);x.fillText('MASTERY',g.cx,g.t+33);x.letterSpacing='0px';}
      zones.forEach(z=>{const s=ZONE[z[4]];const X1=sx.getPixelForValue(z[0]),X2=sx.getPixelForValue(z[1]),Y1=sy.getPixelForValue(P(z[2])),Y2=sy.getPixelForValue(P(z[3]));
        x.fillStyle=s[0];x.fillRect(X1,Y1,X2-X1,Y2-Y1);if(s[1]){x.strokeStyle=s[1];x.lineWidth=1.2;x.strokeRect(X1,Y1,X2-X1,Y2-Y1);}});
      x.restore();},
    afterDraw(ch){const x=ch.ctx,sx=ch.scales.x,sy=ch.scales.y;
      x.save();x.textBaseline='middle';
      labels.forEach(l=>{x.fillStyle=TXT[l[3]];x.textAlign=l[4]||'center';x.font=l[3]==='leg'?`400 10.5px ${FONT}`:`400 9.6px ${FONT}`;x.fillText(l[2],sx.getPixelForValue(l[0]),sy.getPixelForValue(P(l[1])));});
      if(c.tag){const Y=sy.getPixelForValue(P(c.tag));x.fillStyle=c.tagColor||'#2962ff';x.fillRect(plotW+1,Y-8.5,62,17);x.fillStyle='#fff';x.textAlign='left';x.font=`13.2px ${FONT}`;x.fillText((c.tag/1e5).toFixed(5),plotW+9,Y+.5);}
      x.fillStyle='#fff';x.beginPath();x.roundRect(plotW+4,4,60,26,4);x.fill();
      x.fillStyle='#131722';x.textAlign='left';x.font=`12.6px ${FONT}`;x.fillText('USD',plotW+13,17.5);
      x.restore();}};
  const ch=new Chart(cv,{type:'bar',data:{datasets:ds},plugins:[plugin],options:{responsive:false,animation:false,events:[],devicePixelRatio:1,layout:{padding:0},
    plugins:{legend:{display:false},tooltip:{enabled:false}},
    scales:{
      x:{type:'linear',offset:false,min:c.x[0],max:c.x[1],grid:{display:false},border:{display:false},
        afterBuildTicks:s=>{s.ticks=c.tickIdx.map(v=>({value:v}));},afterFit:s=>{s.height=28;s.paddingLeft=0;s.paddingRight=0;},
        ticks:{autoSkip:false,maxRotation:0,minRotation:0,padding:0,color:'#2a2e39',callback:(v,i)=>c.tickLabels[i],
          font:t=>({family:FONT,size:12.6,weight:t.tick&&bold.has(t.tick.value)?'700':'400'})}},
      y:{type:'linear',position:'right',min:P(c.y[0]),max:P(c.y[1]),grid:{display:false},border:{display:false},
        afterBuildTicks:s=>{s.ticks=c.priceTicks.map(v=>({value:P(v)}));},afterFit:s=>{s.width=c.axisW;s.paddingTop=0;s.paddingBottom=0;},
        ticks:{autoSkip:false,padding:1,color:'#2a2e39',font:{family:FONT,size:13.2},callback:v=>v.toFixed(5)}}
    }}});
  // Chart.js may keep a small margin around the plot for its edge labels: re-range the scales so the data lands where it was read.
  const a=ch.chartArea;
  ch.options.scales.x.min=c.x[0]+a.left*ix;ch.options.scales.x.max=c.x[0]+a.right*ix;
  ch.options.scales.y.max=P(c.y[1]-a.top*pp);ch.options.scales.y.min=P(c.y[1]-a.bottom*pp);
  ch.update();
}

panel({box:[10,27,1006,507],axisW:68,x:[-18.2,197.9],y:[64132,65684],candles:p1Candles,start:p1Start,shift:.3,body:3.4,tickIdx:p1TickIdx,tickLabels:p1TickLabels,bold:[21],priceTicks:p1PriceTicks,ema:p1Ema,zones:p1Zones,lines:p1Lines,labels:p1Labels,measures:p1Measures,curves:p1Curves,zig:[p1ZigTop,p1ZigLow],icons:p1Icons,check:p1Check,legend:p1Legend,legendX:p1LegendX,tag:64895,
  wm:{big:'AUDUSD, 1h',bs:92,cx:478,by:226,ss:37,sy:285},logo:{x:252,y:229,cx:286,t:297}});
panel({box:[1021,27,866,507],axisW:71,x:[-23.2,271.6],y:[64225,65266],candles:p2Candles,start:p2Start,body:2.3,bw:1,wick:1.1,tickIdx:p2TickIdx,tickLabels:p2TickLabels,bold:[0,96,184],priceTicks:p2PriceTicks,zones:p2Zones,lines:p2Lines,labels:p2Labels,chevrons:p2Chevrons,zig:[p2ZigTop,p2ZigLow],
  wm:{big:'AUDUSD, 15',bs:87,cx:396,by:226,ss:37,sy:286}});
panel({box:[10,540,752,447],axisW:69,x:[-8.9,115.3],y:[64001,66298],candles:p3Candles,start:p3Start,body:4,tickIdx:p3TickIdx,tickLabels:p3TickLabels,bold:[53],priceTicks:p3PriceTicks,ema:p3Ema,zones:p3Zones,lines:p3Lines,labels:p3Labels,measures:p3Measures,legend:p3Legend,legendX:p3LegendX,tag:65129,
  wm:{big:'AUDUSD, 4h',bs:60,cx:341,by:195,ss:26,sy:238},logo:{x:211,y:212,cx:245,t:280}});
panel({box:[766,540,764,447],axisW:67,x:[-9,62.6],y:[64051,66502],candles:p4Candles,start:p4Start,body:6.4,tickIdx:p4TickIdx,tickLabels:p4TickLabels,bold:[0,22,45],priceTicks:p4PriceTicks,ema:p4Ema,zones:p4Zones,lines:p4Lines,labels:p4Labels,measures:p4Measures,curves:p4Curves,icons:p4Icons,legend:p4Legend,legendX:p4LegendX,tag:65369,tagColor:'#1c4fd6',
  wm:{big:'AUDUSD, 1D',bs:58,cx:347,by:195,ss:26,sy:238},logo:{x:228,y:235,cx:261,t:299}});
panel({box:[1536,540,351,447],axisW:68,x:[-.55,16.1],y:[64000,66834],candles:p5Candles,start:p5Start,body:12.5,tickIdx:p5TickIdx,tickLabels:p5TickLabels,bold:p5TickIdx,priceTicks:p5PriceTicks,ema:p5Ema,zones:p5Zones,lines:p5Lines,labels:p5Labels,tag:64913,
  wm:{big:'AUDUSD, 1W',bs:52,cx:141,by:198,ss:20,sy:234}});
</script>
</body></html>
